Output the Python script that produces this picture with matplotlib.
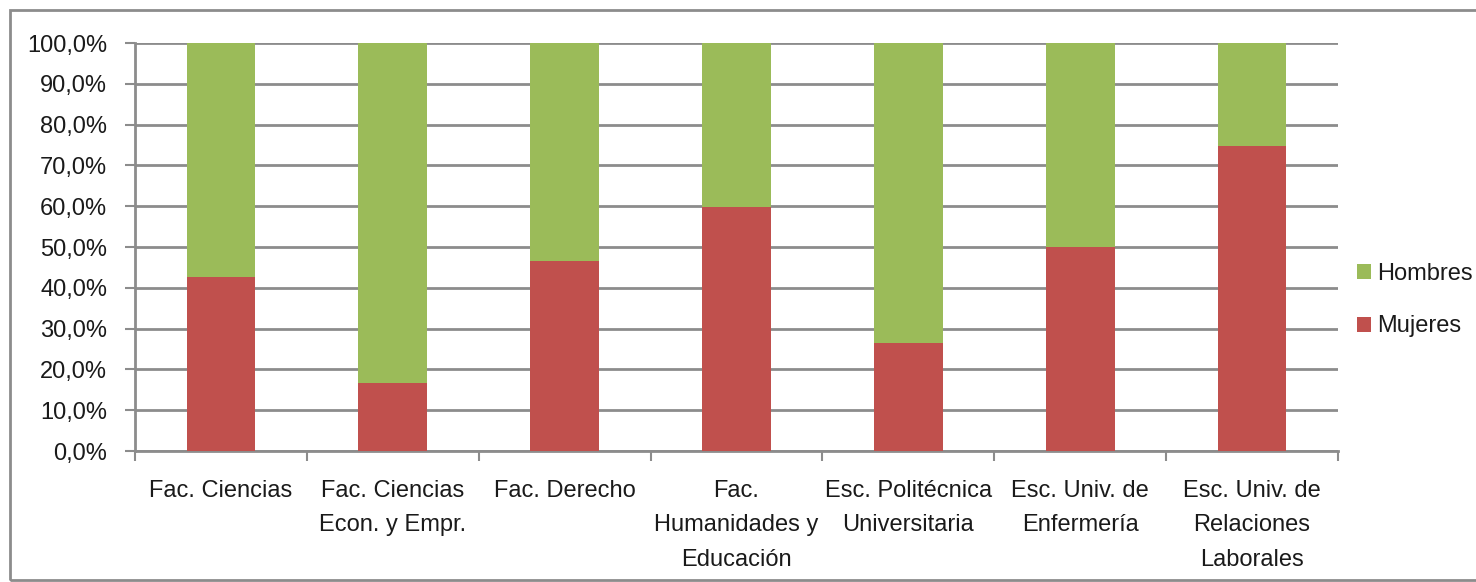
import numpy as np
import matplotlib.pyplot as plt
from matplotlib.patches import Rectangle
from matplotlib.ticker import FuncFormatter

plt.rcParams['font.family'] = ['Liberation Sans', 'DejaVu Sans']

categories = ['Fac. Ciencias', 'Fac. Ciencias\nEcon. y Empr.', 'Fac. Derecho',
              'Fac.\nHumanidades y\nEducación', 'Esc. Politécnica\nUniversitaria',
              'Esc. Univ. de\nEnfermería', 'Esc. Univ. de\nRelaciones\nLaborales']
mujeres = [42.6, 16.7, 46.6, 59.8, 26.5, 50.0, 74.8]
hombres = [100 - m for m in mujeres]

fig = plt.figure(figsize=(14.76, 5.82), dpi=100)
ax = fig.add_axes([0.0915, 0.225, 0.815, 0.701])

# outer chart frame
fig.patches.append(Rectangle((10 / 1476, 2 / 582), 1.0, 570 / 582, transform=fig.transFigure,
                             fill=False, edgecolor='#8c8c8c', linewidth=2))

x = np.arange(len(categories))
ax.bar(x, mujeres, width=0.4, color='#C0504D', label='Mujeres', zorder=3)
ax.bar(x, hombres, width=0.4, bottom=mujeres, color='#9BBB59', label='Hombres', zorder=3)

ax.set_xlim(-0.5, len(categories) - 0.5)
ax.set_ylim(0, 100)
ax.set_yticks(np.arange(0, 101, 10))
ax.yaxis.set_major_formatter(FuncFormatter(lambda v, p: f'{v:.1f}%'.replace('.', ',')))
ax.grid(axis='y', color='#8c8c8c', linewidth=2, zorder=0)

ax.set_xticks(np.arange(-0.5, len(categories), 1.0), minor=False)
ax.set_xticklabels([])
ax.set_xticks(x, minor=True)
ax.set_xticklabels(categories, minor=True, fontsize=17, linespacing=1.72, va='top',
                   color='#1a1a1a')
ax.tick_params(axis='x', which='minor', length=0, pad=21)
ax.tick_params(axis='x', which='major', length=7, width=1.5, color='#8c8c8c')
ax.tick_params(axis='y', length=7, width=1.5, color='#8c8c8c', labelsize=17,
               labelcolor='#1a1a1a', pad=13)

for s in ['top', 'right']:
    ax.spines[s].set_visible(False)
for s in ['left', 'bottom']:
    ax.spines[s].set_color('#8c8c8c')
    ax.spines[s].set_linewidth(2)

handles, labels = ax.get_legend_handles_labels()
leg = ax.legend(handles[::-1], labels[::-1], loc='center left', bbox_to_anchor=(1.0, 0.37),
                frameon=False, fontsize=17, handlelength=0.6, handleheight=0.6,
                handletextpad=0.25, labelspacing=1.3, borderaxespad=0.4)
for t in leg.get_texts():
    t.set_color('#1a1a1a')

fig.savefig('out.png', dpi=100)
